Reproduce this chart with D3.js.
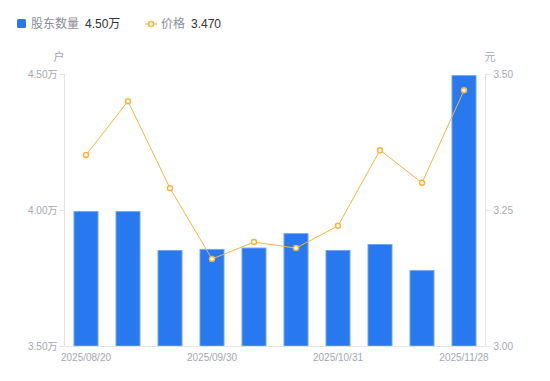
<html>
<head>
    <meta charSet="utf-8">
    <title>股东数量与价格</title>
    <script src="https://d3js.org/d3.v7.min.js"></script>
    <style>
        body { margin: 0; background: #fff; font-family: "Liberation Sans", "Noto Sans CJK SC", sans-serif; }
    </style>
</head>
<body>
<svg id="chart"></svg>
<script>
    // data
    const dates = ["2025/08/20", "2025/08/29", "2025/09/10", "2025/09/30", "2025/10/10",
        "2025/10/20", "2025/10/31", "2025/11/10", "2025/11/20", "2025/11/28"];
    const holders = [3.996, 3.996, 3.853, 3.857, 3.862, 3.915, 3.853, 3.875, 3.779, 4.496]; // 万户
    const prices = [3.351, 3.450, 3.290, 3.160, 3.191, 3.180, 3.221, 3.360, 3.300, 3.470]; // 元
    const leftTicks = [3.5, 4.0, 4.5];
    const rightTicks = [3.0, 3.25, 3.5];
    const xLabels = ["2025/08/20", "2025/09/30", "2025/10/31", "2025/11/28"];

    const width = 550, height = 381;
    const m = {top: 74, right: 65, bottom: 35, left: 65};

    const blue = "#2878f0";
    const orange = "#f7b340";
    const axisColor = "#e3e4e8";
    const tickText = "#a3a6b0";

    const svg = d3.select("#chart")
        .attr("width", width)
        .attr("height", height);

    const x = d3.scaleBand()
        .domain(dates)
        .range([m.left, width - m.right]);

    const yL = d3.scaleLinear().domain([3.5, 4.5]).range([height - m.bottom, m.top]);
    const yR = d3.scaleLinear().domain([3.0, 3.5]).range([height - m.bottom, m.top]);

    // bars
    const barW = 25;
    svg.selectAll(".bar")
        .data(holders)
        .join("rect")
        .attr("class", "bar")
        .attr("x", (d, i) => x(dates[i]) + x.bandwidth() / 2 - barW / 2 + 0.5)
        .attr("y", d => yL(d) + 0.5)
        .attr("width", barW - 1)
        .attr("height", d => yL(3.5) - yL(d) - 0.5)
        .attr("fill", blue)
        .attr("stroke", "#6fa4f5")
        .attr("stroke-width", 1);

    // axes
    const leftAxis = svg.append("g")
        .attr("transform", `translate(${m.left - 0.5},0)`)
        .call(d3.axisLeft(yL).tickValues(leftTicks).tickSize(5).tickPadding(2)
            .tickFormat(d => d3.format(".2f")(d) + "万"));
    const rightAxis = svg.append("g")
        .attr("transform", `translate(${width - m.right + 0.5},0)`)
        .call(d3.axisRight(yR).tickValues(rightTicks).tickSize(5).tickPadding(3)
            .tickFormat(d3.format(".2f")));
    const bottomAxis = svg.append("g")
        .attr("transform", `translate(0,${height - m.bottom + 0.5})`)
        .call(d3.axisBottom(x).tickValues(xLabels).tickSize(0).tickPadding(7));

    [leftAxis, rightAxis, bottomAxis].forEach(g => {
        g.select(".domain").attr("stroke", axisColor);
        g.selectAll(".tick line").attr("stroke", axisColor);
        g.selectAll("text")
            .attr("fill", tickText)
            .style("font-size", "10px")
            .style("font-family", "'Liberation Sans', 'Noto Sans CJK SC', sans-serif");
    });
    // plain domain lines, no outer ticks
    leftAxis.select(".domain").attr("d", `M0,${m.top}V${height - m.bottom}`);
    rightAxis.select(".domain").attr("d", `M0,${m.top}V${height - m.bottom}`);
    bottomAxis.select(".domain").attr("d", `M${m.left},0H${width - m.right}`);

    // unit labels
    svg.append("text").attr("x", 59).attr("y", 61).attr("text-anchor", "middle")
        .attr("fill", tickText).style("font-size", "11px").text("户");
    svg.append("text").attr("x", 490).attr("y", 61).attr("text-anchor", "middle")
        .attr("fill", tickText).style("font-size", "11px").text("元");

    // price line
    const line = d3.line()
        .x((d, i) => x(dates[i]) + x.bandwidth() / 2)
        .y(d => yR(d));
    svg.append("path")
        .datum(prices)
        .attr("fill", "none")
        .attr("stroke", orange)
        .attr("stroke-width", 1)
        .attr("d", line);
    svg.selectAll(".pt")
        .data(prices)
        .join("circle")
        .attr("class", "pt")
        .attr("cx", (d, i) => x(dates[i]) + x.bandwidth() / 2)
        .attr("cy", d => yR(d))
        .attr("r", 2.5)
        .attr("fill", "#fff")
        .attr("stroke", orange)
        .attr("stroke-width", 1.5);

    // legend
    const lg = svg.append("g").style("font-size", "12px");
    lg.append("rect").attr("x", 17).attr("y", 19).attr("width", 9).attr("height", 9)
        .attr("rx", 1.5).attr("fill", blue);
    lg.append("text").attr("x", 31).attr("y", 28).attr("fill", "#8a8d97").text("股东数量");
    lg.append("text").attr("x", 85).attr("y", 28).attr("fill", "#333")
        .text(d3.format(".2f")(holders[holders.length - 1]) + "万");
    lg.append("line").attr("x1", 145).attr("x2", 157).attr("y1", 24).attr("y2", 24)
        .attr("stroke", orange).attr("stroke-width", 1);
    lg.append("circle").attr("cx", 151).attr("cy", 24).attr("r", 2.5)
        .attr("fill", "#fff").attr("stroke", orange).attr("stroke-width", 1.5);
    lg.append("text").attr("x", 161).attr("y", 28).attr("fill", "#8a8d97").text("价格");
    lg.append("text").attr("x", 191).attr("y", 28).attr("fill", "#333")
        .text(d3.format(".3f")(prices[prices.length - 1]));
</script>
</body>
</html>
